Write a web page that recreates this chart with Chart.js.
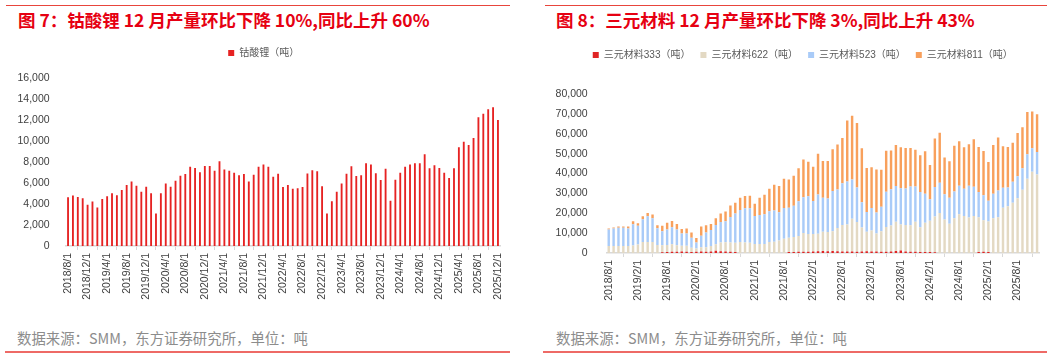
<!DOCTYPE html>
<html><head><meta charset="utf-8">
<script src="https://cdn.jsdelivr.net/npm/chart.js@4.4.1/dist/chart.umd.min.js"></script>
<style>
html,body{margin:0;padding:0;background:#fff;}
body{width:1061px;height:358px;position:relative;overflow:hidden;font-family:"Liberation Sans","Noto Sans CJK SC",sans-serif;}
.hl{position:absolute;}
.title{position:absolute;top:9px;font-family:"Noto Sans CJK SC",sans-serif;font-weight:bold;font-size:17.5px;color:#e60012;white-space:nowrap;line-height:22px;}
.src{position:absolute;top:329px;font-family:"Noto Sans CJK SC",sans-serif;font-size:14.4px;color:#8c8c8c;white-space:nowrap;line-height:18px;}
canvas{position:absolute;}
</style></head><body>
<div class="hl" style="left:6px;top:5px;width:504px;height:1px;background:#e8453c"></div>
<div class="hl" style="left:545px;top:5px;width:502px;height:1px;background:#e8453c"></div>
<div class="title" style="left:18px">图 7：钴酸锂 12 月产量环比下降 10%,同比上升 60%</div>
<div class="title" style="left:556px">图 8：三元材料 12 月产量环比下降 3%,同比上升 43%</div>
<canvas id="c1" width="530" height="266" style="left:0;top:40px"></canvas>
<canvas id="c2" width="531" height="273" style="left:530px;top:40px"></canvas>
<div class="src" style="left:17px">数据来源：SMM，东方证券研究所，单位：吨</div>
<div class="src" style="left:556px">数据来源：SMM，东方证券研究所，单位：吨</div>
<div class="hl" style="left:5px;top:351px;width:505px;height:2px;background:#ee6a66"></div>
<div class="hl" style="left:543px;top:351px;width:504px;height:2px;background:#ee6a66"></div>
<script>
const categories = [
'2018/8/1','2018/9/1','2018/10/1','2018/11/1','2018/12/1',
'2019/1/1','2019/2/1','2019/3/1','2019/4/1','2019/5/1','2019/6/1','2019/7/1','2019/8/1','2019/9/1','2019/10/1','2019/11/1','2019/12/1',
'2020/1/1','2020/2/1','2020/3/1','2020/4/1','2020/5/1','2020/6/1','2020/7/1','2020/8/1','2020/9/1','2020/10/1','2020/11/1','2020/12/1',
'2021/1/1','2021/2/1','2021/3/1','2021/4/1','2021/5/1','2021/6/1','2021/7/1','2021/8/1','2021/9/1','2021/10/1','2021/11/1','2021/12/1',
'2022/1/1','2022/2/1','2022/3/1','2022/4/1','2022/5/1','2022/6/1','2022/7/1','2022/8/1','2022/9/1','2022/10/1','2022/11/1','2022/12/1',
'2023/1/1','2023/2/1','2023/3/1','2023/4/1','2023/5/1','2023/6/1','2023/7/1','2023/8/1','2023/9/1','2023/10/1','2023/11/1','2023/12/1',
'2024/1/1','2024/2/1','2024/3/1','2024/4/1','2024/5/1','2024/6/1','2024/7/1','2024/8/1','2024/9/1','2024/10/1','2024/11/1','2024/12/1',
'2025/1/1','2025/2/1','2025/3/1','2025/4/1','2025/5/1','2025/6/1','2025/7/1','2025/8/1','2025/9/1','2025/10/1','2025/11/1','2025/12/1'];

const leftTickLabels = ['2018/8/1','2018/12/1','2019/4/1','2019/8/1','2019/12/1','2020/4/1','2020/8/1','2020/12/1','2021/4/1','2021/8/1','2021/12/1','2022/4/1','2022/8/1','2022/12/1','2023/4/1','2023/8/1','2023/12/1','2024/4/1','2024/8/1','2024/12/1','2025/4/1','2025/8/1','2025/12/1'];
const rightTickLabels = ['2018/8/1','2019/2/1','2019/8/1','2020/2/1','2020/8/1','2021/2/1','2021/8/1','2022/2/1','2022/8/1','2023/2/1','2023/8/1','2024/2/1','2024/8/1','2025/2/1','2025/8/1'];

// 钴酸锂（吨）
const licoo2 = [4640,4800,4670,4540,3940,4230,3660,4480,4730,5020,4830,5330,5800,6150,
5740,5170,5650,5020,3090,5020,5960,5650,6210,6690,6850,7540,7440,7030,
7630,7630,7160,8080,7290,7160,6970,6750,6850,6150,6780,7540,7760,7540,
6590,6880,5620,5800,5460,5490,5620,6910,7220,7130,5680,3090,4260,5170,
5960,6880,7600,6660,6750,7890,7760,6940,6280,7350,4320,6310,6970,7540,
7760,7890,7890,8740,7410,7700,7440,6970,6470,7410,9400,9940,9620,10280,
12270,12590,13030,13220,11990];

// 三元材料333（吨）
const ncm333 = [0,0,0,0,0,0,0,0,0,0,0,
400,500,600,600,700,600,500,600,700,600,800,1100,900,700,600,500,
0,0,0,0,0,0,0,0,0,0,
500,500,600,600,600,700,900,1000,900,1000,900,800,700,700,600,700,900,800,700,600,600,700,1000,1200,800,600,600,500,500,500,400,
0,0,0,0,0,0,0,0,
500,600,500,
0,0,0,0,0,0,0,0,0,0];
// 三元材料622（吨）
const ncm622 = [3500,3500,3500,3500,3500,3830,4330,5500,5500,5500,4000,3500,3500,3830,3330,3000,3000,2170,1670,2170,
2330,2670,3330,4330,4670,4670,4670,5500,5330,5170,4500,4500,4500,5500,5670,6330,7170,7170,7500,8000,
9500,9000,8830,8830,9670,9670,10000,11670,13330,13670,16500,15000,12170,9830,10500,9170,10330,12500,13170,14670,
13170,13330,13330,15170,12500,14670,15670,18000,20170,16830,14670,17500,19500,18670,17830,18670,17500,15830,15330,17500,
18000,22830,23500,25330,27500,31830,37330,40830,39500];
// 三元材料523（吨）
const ncm523 = [8330,8830,9170,9170,8830,10670,9340,11500,13000,12000,8500,7000,7830,8500,7840,6170,6170,5000,3000,5830,
7340,8160,9670,10340,10660,12830,14660,16170,17170,17330,14170,14670,15000,15500,15660,14170,15500,15160,15830,17500,
18000,19000,16670,19670,17160,16830,20170,19330,21000,21660,19830,17330,12660,9840,11330,10500,12340,17670,18160,18000,
18160,18340,19500,17660,17670,14660,10830,14830,15160,12670,13160,13500,14330,13660,16000,14660,12670,12670,10500,12330,
13500,10000,9500,10500,11170,10840,12340,11840,11330];
// 三元材料811（吨）
const ncm811 = [500,500,660,660,1000,1500,1330,1500,1670,1830,1500,2830,3340,3170,2830,2160,2500,2660,2330,4670,
3660,3000,3330,4330,4840,5830,5500,6160,6170,6330,6160,8660,9830,11330,13000,13170,14660,14170,15000,16600,
19000,17330,17170,20500,18500,18830,21000,22670,22670,30670,32000,32500,27170,22160,20500,21660,18660,20660,19500,20660,
20670,20330,19340,18500,18500,21340,17330,24340,25170,18500,18340,23000,22340,20840,20840,23840,22660,22170,19500,24500,
26670,20840,20330,19670,21660,20660,21330,18500,19000];

Chart.defaults.font.family = '"Liberation Sans","Noto Sans CJK SC",sans-serif';
Chart.defaults.animation = false;

const legendGap = {
  id: 'legendGap',
  beforeInit(chart, args, opts) {
    const lg = chart.legend;
    if (!lg) return;
    const fit = lg.fit.bind(lg);
    lg.fit = function () { fit(); this.height += opts.extra || 0; };
  },
  afterLayout(chart, args, opts) {
    const lg = chart.legend;
    if (!lg) return;
    lg.left += opts.shift || 0;
    lg.right += opts.shift || 0;
  }
};

function fmt(v){ return Number(v).toLocaleString('en-US'); }

function xScale(tickList, barStack) {
  return {
    stacked: barStack,
    grid: { display: true, drawOnChartArea: false, drawTicks: true, tickLength: 4, color: '#d9d9d9', offset: true },
    border: { display: true, color: '#d9d9d9', width: 1.5 },
    ticks: {
      autoSkip: false, minRotation: 90, maxRotation: 90, padding: 3,
      color: '#404040', font: { size: 10.5 },
      callback: function (v, i) { const l = categories[i]; return tickList.includes(l) ? l : null; }
    },
    afterFit: s => { s.height = 60; }
  };
}

new Chart(document.getElementById('c1'), {
  type: 'bar',
  data: { labels: categories, datasets: [{ label: '钴酸锂（吨）', data: licoo2, backgroundColor: '#e62222', barPercentage: 0.38, categoryPercentage: 1 }] },
  plugins: [legendGap],
  options: {
    responsive: false, devicePixelRatio: 1,
    layout: { padding: { left: 0, right: 29.6, top: 0, bottom: 0 } },
    plugins: {
      legendGap: { extra: 10, shift: 13.5 },
      tooltip: { enabled: false },
      legend: { position: 'top', align: 'center', labels: { boxWidth: 6, boxHeight: 6, padding: 8, color: '#595959', font: { size: 10 } } }
    },
    scales: {
      x: xScale(leftTickLabels, false),
      y: {
        min: 0, max: 16000,
        grid: { display: false }, border: { display: false },
        ticks: { stepSize: 2000, padding: 8, color: '#404040', font: { size: 10.5 }, callback: fmt },
        afterFit: s => { s.width = 65.6; }
      }
    }
  }
});

new Chart(document.getElementById('c2'), {
  type: 'bar',
  data: { labels: categories, datasets: [
    { label: '三元材料333（吨）', data: ncm333, backgroundColor: '#e02424', barPercentage: 0.5, categoryPercentage: 1 },
    { label: '三元材料622（吨）', data: ncm622, backgroundColor: '#e3d9c3', barPercentage: 0.5, categoryPercentage: 1 },
    { label: '三元材料523（吨）', data: ncm523, backgroundColor: '#a9cbf8', barPercentage: 0.5, categoryPercentage: 1 },
    { label: '三元材料811（吨）', data: ncm811, backgroundColor: '#f8a05c', barPercentage: 0.5, categoryPercentage: 1 }
  ] },
  plugins: [legendGap],
  options: {
    responsive: false, devicePixelRatio: 1,
    layout: { padding: { left: 0, right: 21.5, top: 0, bottom: 0 } },
    plugins: {
      legendGap: { extra: 24, shift: 18 },
      tooltip: { enabled: false },
      legend: { position: 'top', align: 'center', labels: { boxWidth: 6, boxHeight: 6, padding: 10, color: '#595959', font: { size: 10 } } }
    },
    scales: {
      x: xScale(rightTickLabels, true),
      y: {
        stacked: true, min: 0, max: 80000,
        grid: { display: false }, border: { display: false },
        ticks: { stepSize: 10000, padding: 10.6, color: '#404040', font: { size: 10.5 }, callback: fmt },
        afterFit: s => { s.width = 76.3; }
      }
    }
  }
});
</script>
</body></html>
